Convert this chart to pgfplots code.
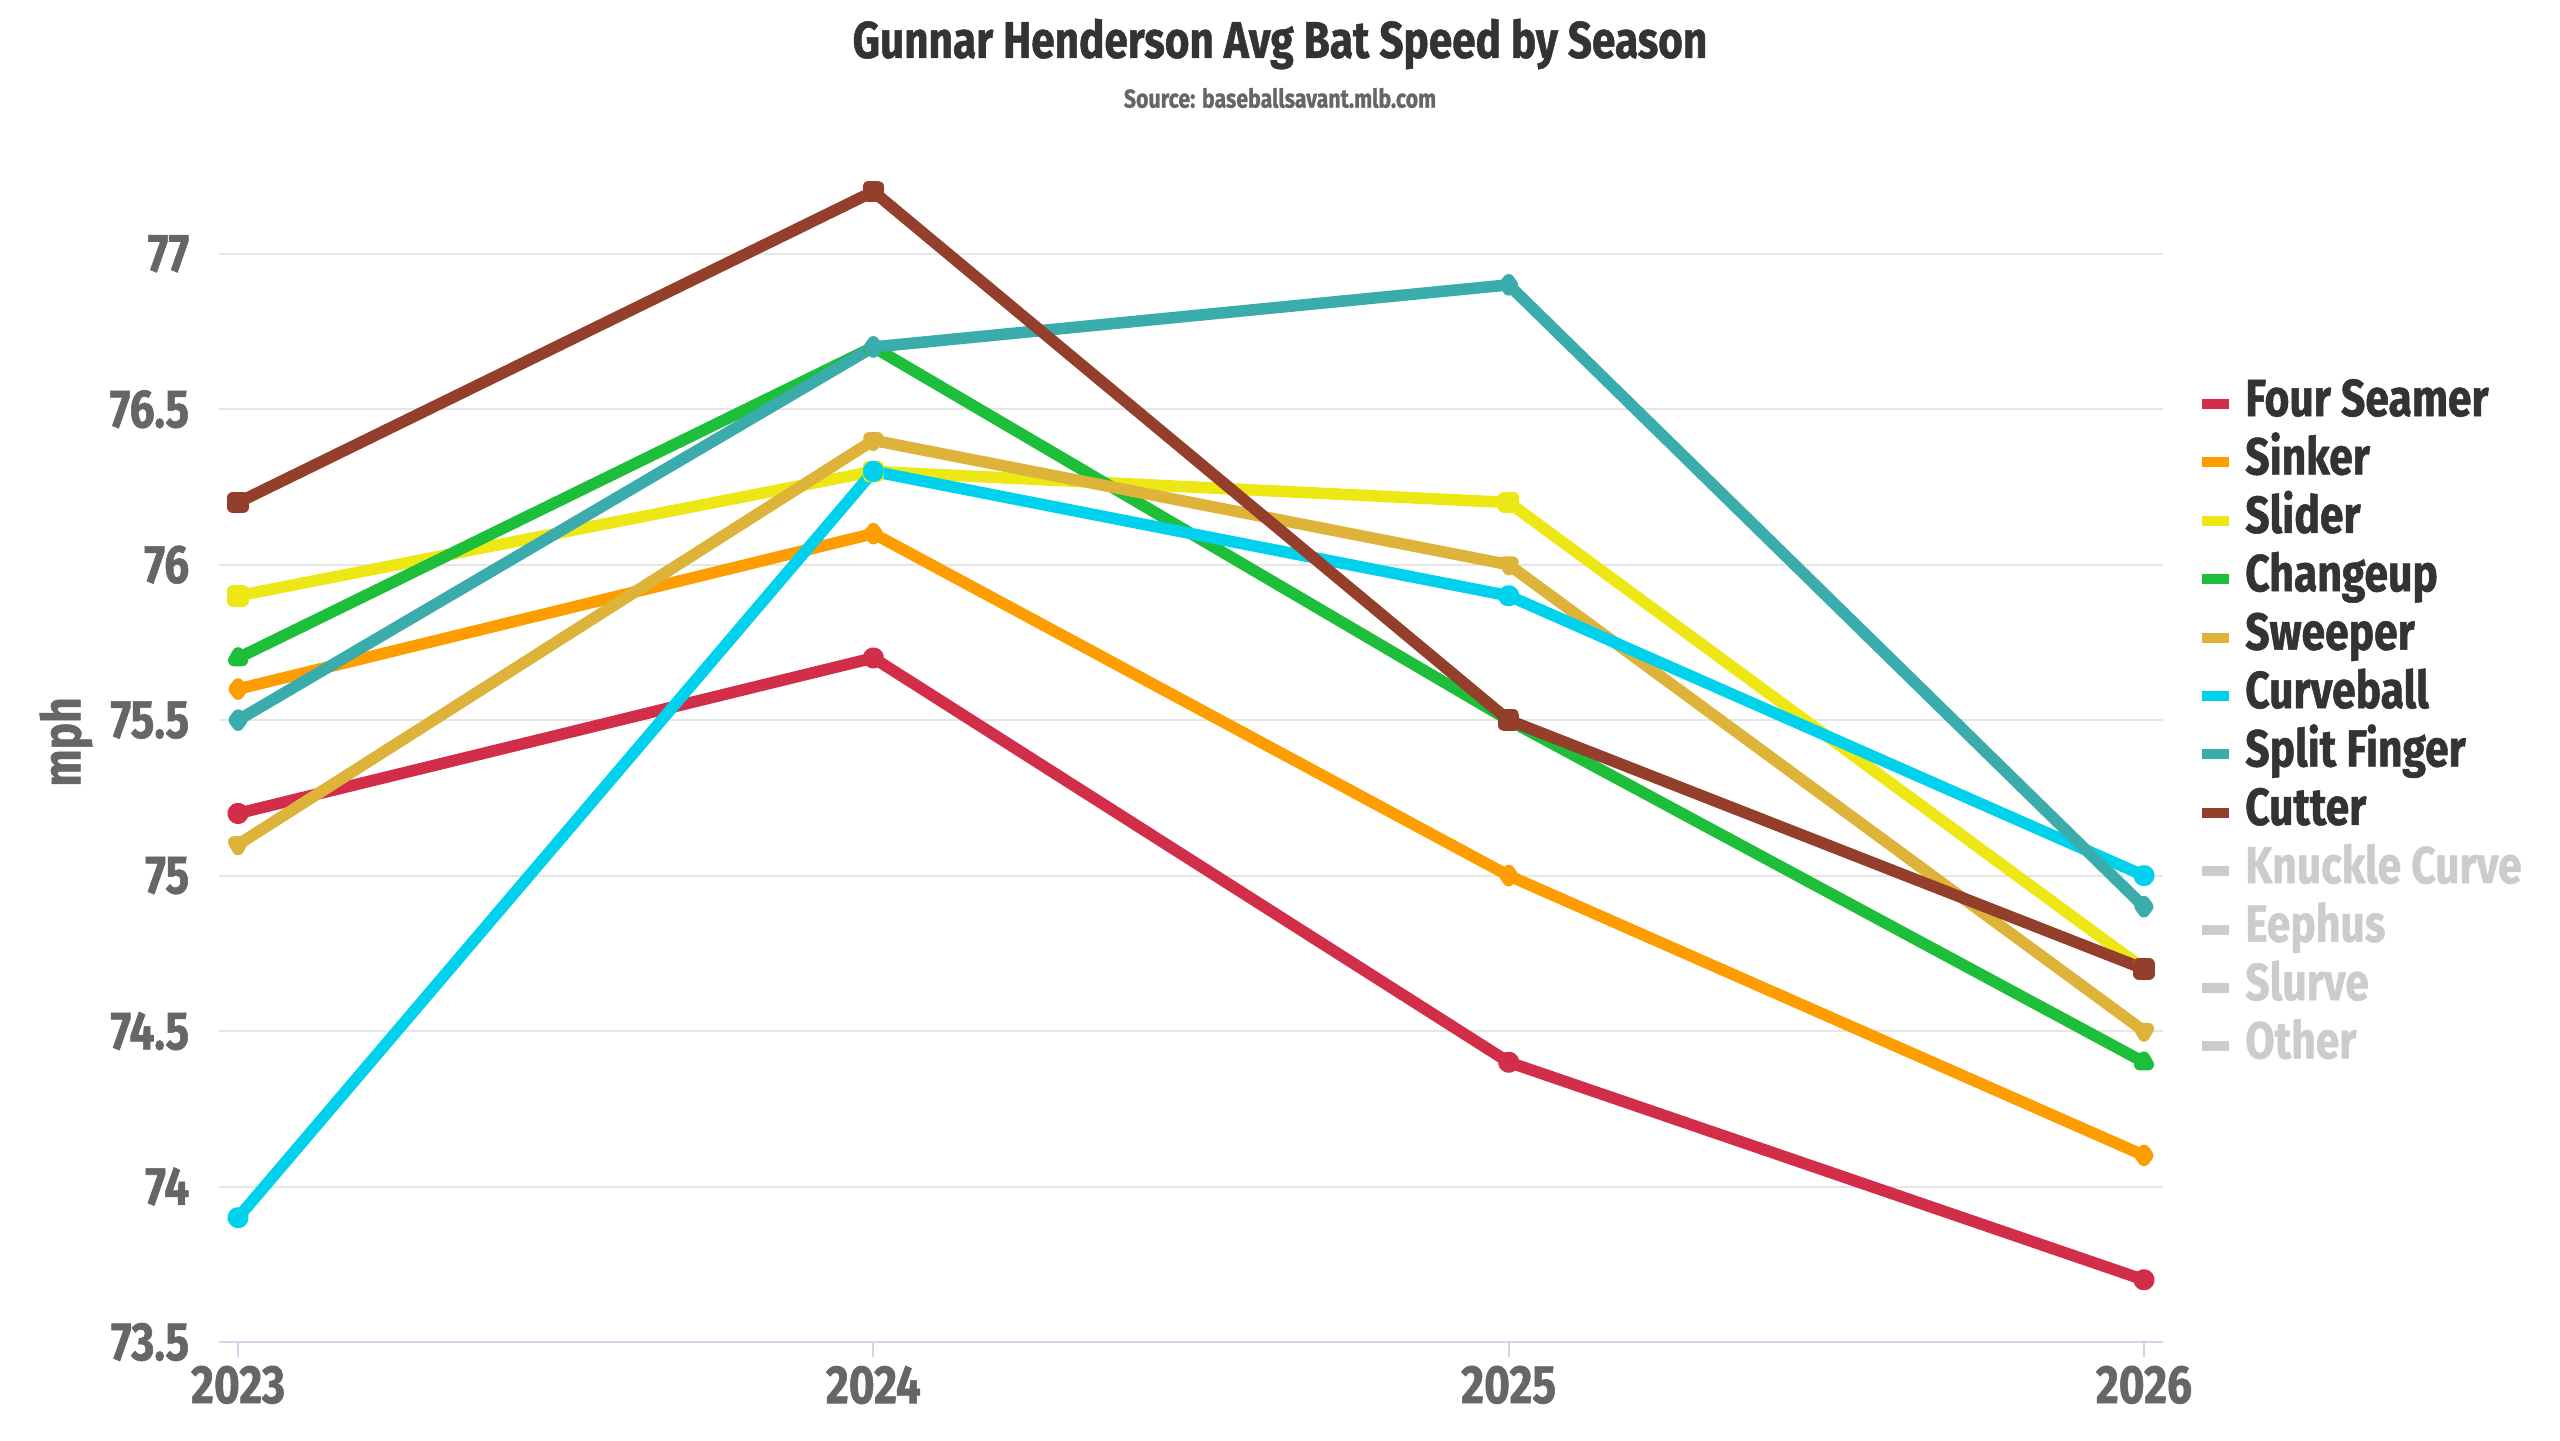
\documentclass[border=0pt]{standalone}
\usepackage{pgfplots}
\pgfplotsset{compat=1.18}
\usepackage{fontspec}
\setmainfont{Fira Sans}[FakeStretch=0.82, BoldFeatures={FakeBold=1}]
\definecolor{cFS}{HTML}{D22D49}
\definecolor{cSI}{HTML}{FE9D00}
\definecolor{cSL}{HTML}{EEE716}
\definecolor{cCH}{HTML}{1DBE3A}
\definecolor{cST}{HTML}{DDB33A}
\definecolor{cCU}{HTML}{00D1ED}
\definecolor{cFF}{HTML}{3BACAC}
\definecolor{cFC}{HTML}{933F2C}
\definecolor{cOff}{HTML}{CCCCCC}
\definecolor{cGrid}{HTML}{E6E6E6}
\definecolor{cAx}{HTML}{CCD6EB}
\definecolor{cLab}{HTML}{666666}
\definecolor{cTxt}{HTML}{333333}
\begin{document}
\begin{tikzpicture}
\path[use as bounding box] (0,0) rectangle (640pt,360pt);
\begin{axis}[
  at={(54.75pt,24.5pt)}, anchor=south west,
  scale only axis, width=486pt, height=291.5pt,
  xmin=2022.97, xmax=2026.03, ymin=73.5, ymax=77.25,
  xtick={2023,2024,2025,2026}, xticklabels={2023,2024,2025,2026},
  ytick={73.5,74,74.5,75,75.5,76,76.5,77},
  ymajorgrids, grid style={draw=cGrid, line width=0.5pt},
  axis x line*=bottom, axis y line*=left,
  x axis line style={draw=cAx, line width=0.5pt, -},
  y axis line style={draw=none},
  tick align=outside, major tick length=3.75pt,
  xtick style={draw=cAx, line width=0.5pt},
  ytick style={draw=none},
  /pgf/number format/assume math mode=true,
  /pgf/number format/.cd, fixed, precision=1, use period, 1000 sep={},
  /pgfplots/.cd,
  ticklabel style={font=\fontsize{13.5}{15}\selectfont\bfseries, text=cLab, inner sep=0pt},
  yticklabel style={anchor=east, xshift=-3.5pt},
  xticklabel style={anchor=north, yshift=-2pt},
  legend style={at={(1.0173,0.824)}, anchor=north west, draw=none, fill=none,
    inner sep=0pt, column sep=2.7pt, row sep=3.6pt,
    nodes={inner sep=0pt, anchor=west, text height=8.5pt, text depth=2.5pt,
      font=\fontsize{13}{15}\selectfont\bfseries, text=cTxt}},
  legend cell align=left,
  legend image code/.code={\draw[#1, mark=none, line width=2.5pt, line cap=butt] (0pt,0pt) -- (6.75pt,0pt);},
  every axis plot/.append style={line width=2.9pt, line cap=round, line join=round, mark size=1.25pt, mark options={solid}},
]
\addplot[cFS, mark=*] coordinates {(2023,75.2) (2024,75.7) (2025,74.4) (2026,73.7)};
\addlegendentry{Four Seamer}
\addplot[cSI, mark=diamond*] coordinates {(2023,75.6) (2024,76.1) (2025,75.0) (2026,74.1)};
\addlegendentry{Sinker}
\addplot[cSL, mark=square*] coordinates {(2023,75.9) (2024,76.3) (2025,76.2) (2026,74.7)};
\addlegendentry{Slider}
\addplot[cCH, mark=triangle*] coordinates {(2023,75.7) (2024,76.7) (2025,75.5) (2026,74.4)};
\addlegendentry{Changeup}
\addplot[cST, mark=triangle*, mark options={rotate=180}] coordinates {(2023,75.1) (2024,76.4) (2025,76.0) (2026,74.5)};
\addlegendentry{Sweeper}
\addplot[cCU, mark=*] coordinates {(2023,73.9) (2024,76.3) (2025,75.9) (2026,75.0)};
\addlegendentry{Curveball}
\addplot[cFF, mark=diamond*] coordinates {(2023,75.5) (2024,76.7) (2025,76.9) (2026,74.9)};
\addlegendentry{Split Finger}
\addplot[cFC, mark=square*] coordinates {(2023,76.2) (2024,77.2) (2025,75.5) (2026,74.7)};
\addlegendentry{Cutter}
\addlegendimage{cOff}
\addlegendentry[text=cOff]{Knuckle Curve}
\addlegendimage{cOff}
\addlegendentry[text=cOff]{Eephus}
\addlegendimage{cOff}
\addlegendentry[text=cOff]{Slurve}
\addlegendimage{cOff}
\addlegendentry[text=cOff]{Other}
\end{axis}
\node[font=\fontsize{12.9}{15}\selectfont\bfseries, text=cTxt] at (320pt,349pt) {Gunnar Henderson Avg Bat Speed by Season};
\node[font=\fontsize{6.5}{8}\selectfont\bfseries, text=cLab] at (320pt,335.5pt) {Source: baseballsavant.mlb.com};
\node[rotate=90, font=\fontsize{13.5}{15}\selectfont\bfseries, text=cLab] at (16.5pt,174.5pt) {mph};
\end{tikzpicture}
\end{document}
